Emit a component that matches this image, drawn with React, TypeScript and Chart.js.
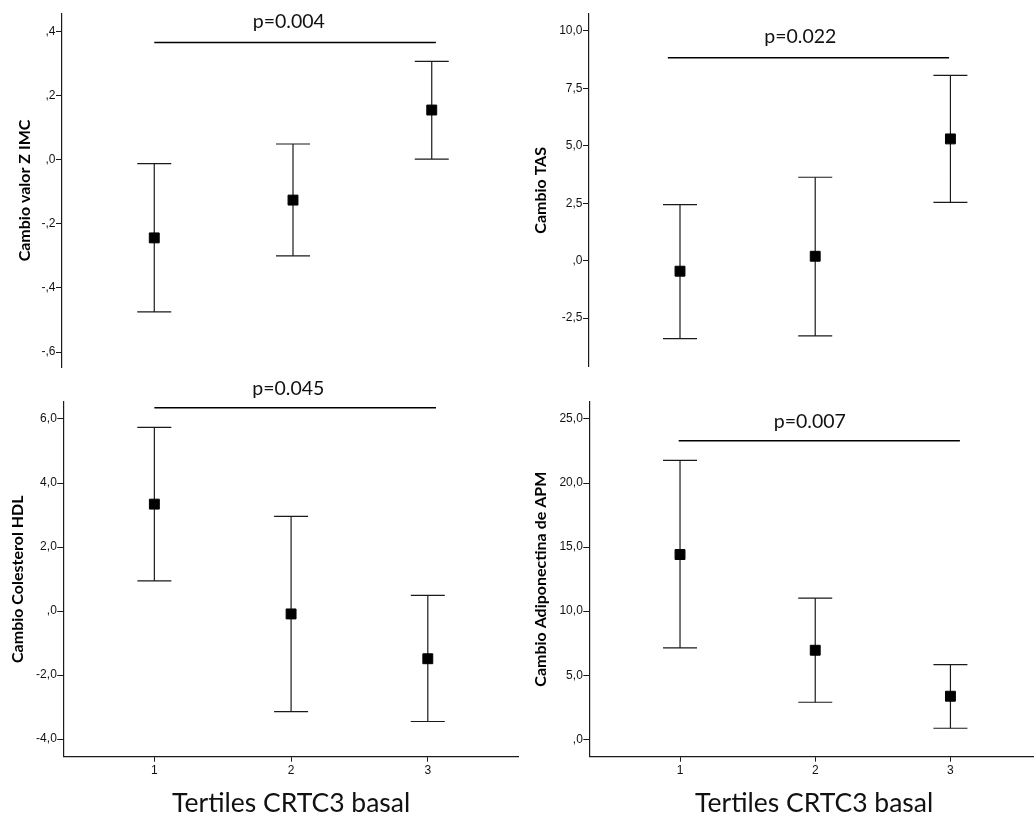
import React, { useEffect, useRef } from "react";
import { Chart, registerables } from "chart.js";

Chart.register(...registerables);

// ---------- shared categories / axis text ----------
const categories = [1, 2, 3];
const xTickLabels = ["1", "2", "3"];
const xAxisTitle = "Tertiles CRTC3 basal";

// ---------- Panel A: Cambio valor Z IMC ----------
const imcTitle = "Cambio valor Z IMC";
const imcMean = [-0.244, -0.126, 0.155];
const imcLower = [-0.475, -0.3, 0.002];
const imcUpper = [-0.012, 0.049, 0.307];
const imcTicks = [-0.6, -0.4, -0.2, 0, 0.2, 0.4];
const imcTickLabels = ["-,6", "-,4", "-,2", ",0", ",2", ",4"];
const imcRange = [-0.6468, 0.4546];
const imcP = "p=0.004";
const imcPLineX = [1.0, 3.03];
const imcPLevel = 0.366;
const imcPTextX = 1.97;

// ---------- Panel B: Cambio TAS ----------
const tasTitle = "Cambio TAS";
const tasMean = [-0.46, 0.19, 5.3];
const tasLower = [-3.4, -3.28, 2.54];
const tasUpper = [2.44, 3.63, 8.07];
const tasTicks = [-2.5, 0, 2.5, 5, 7.5, 10];
const tasTickLabels = ["-2,5", ",0", "2,5", "5,0", "7,5", "10,0"];
const tasRange = [-4.62, 10.74];
const tasP = "p=0.022";
const tasPLineX = [0.91, 2.99];
const tasPLevel = 8.84;
const tasPTextX = 1.89;

// ---------- Panel C: Cambio Colesterol HDL ----------
const hdlTitle = "Cambio Colesterol HDL";
const hdlMean = [3.34, -0.09, -1.49];
const hdlLower = [0.94, -3.14, -3.45];
const hdlUpper = [5.74, 2.96, 0.49];
const hdlTicks = [-4, -2, 0, 2, 4, 6];
const hdlTickLabels = ["-4,0", "-2,0", ",0", "2,0", "4,0", "6,0"];
const hdlRange = [-4.55, 6.54];
const hdlP = "p=0.045";
const hdlPLineX = [1.0, 3.06];
const hdlPLevel = 6.35;
const hdlPTextX = 1.98;

// ---------- Panel D: Cambio Adiponectina de APM ----------
const apmTitle = "Cambio Adiponectina de APM";
const apmMean = [14.42, 6.95, 3.36];
const apmLower = [7.13, 2.89, 0.86];
const apmUpper = [21.77, 11.02, 5.83];
const apmTicks = [0, 5, 10, 15, 20, 25];
const apmTickLabels = [",0", "5,0", "10,0", "15,0", "20,0", "25,0"];
const apmRange = [-1.36, 26.35];
const apmP = "p=0.007";
const apmPLineX = [0.99, 3.07];
const apmPLevel = 23.3;
const apmPTextX = 1.96;

type PanelData = {
  title: string;
  mean: number[];
  lower: number[];
  upper: number[];
  ticks: number[];
  tickLabels: string[];
  range: number[];
  pLabel: string;
  pLineX: number[];
  pLevel: number;
  pTextX: number;
};

type PanelLayout = {
  left: number;
  top: number;
  width: number;
  height: number;
  axisW: number;
  padTop: number;
  padBottom: number;
  showX: boolean;
  xAxisH: number;
  titleX: number;
  pGap: number;
  xMin: number;
  xMax: number;
};

const panels: { data: PanelData; layout: PanelLayout }[] = [
  {
    data: {
      title: imcTitle, mean: imcMean, lower: imcLower, upper: imcUpper,
      ticks: imcTicks, tickLabels: imcTickLabels, range: imcRange,
      pLabel: imcP, pLineX: imcPLineX, pLevel: imcPLevel, pTextX: imcPTextX,
    },
    layout: {
      left: 0, top: 0, width: 524, height: 380, axisW: 62, padTop: 14, padBottom: 13,
      showX: false, xAxisH: 0, titleX: 25, pGap: 14, xMin: 0.335, xMax: 3.665,
    },
  },
  {
    data: {
      title: tasTitle, mean: tasMean, lower: tasLower, upper: tasUpper,
      ticks: tasTicks, tickLabels: tasTickLabels, range: tasRange,
      pLabel: tasP, pLineX: tasPLineX, pLevel: tasPLevel, pTextX: tasPTextX,
    },
    layout: {
      left: 522, top: 0, width: 517, height: 380, axisW: 67, padTop: 14, padBottom: 13.3,
      showX: false, xAxisH: 0, titleX: 19, pGap: 15, xMin: 0.327, xMax: 3.655,
    },
  },
  {
    data: {
      title: hdlTitle, mean: hdlMean, lower: hdlLower, upper: hdlUpper,
      ticks: hdlTicks, tickLabels: hdlTickLabels, range: hdlRange,
      pLabel: hdlP, pLineX: hdlPLineX, pLevel: hdlPLevel, pTextX: hdlPTextX,
    },
    layout: {
      left: 0, top: 380, width: 519, height: 439, axisW: 63.3, padTop: 21.7, padBottom: 0,
      showX: true, xAxisH: 62.3, titleX: 17.5, pGap: 12.7, xMin: 0.334, xMax: 3.667,
    },
  },
  {
    data: {
      title: apmTitle, mean: apmMean, lower: apmLower, upper: apmUpper,
      ticks: apmTicks, tickLabels: apmTickLabels, range: apmRange,
      pLabel: apmP, pLineX: apmPLineX, pLevel: apmPLevel, pTextX: apmPTextX,
    },
    layout: {
      left: 522, top: 380, width: 517, height: 439, axisW: 67.3, padTop: 21.7, padBottom: 0,
      showX: true, xAxisH: 62.3, titleX: 19, pGap: 12.7, xMin: 0.329, xMax: 3.655,
    },
  },
];

const LINE = "#1a1a1a";
const TICK_FONT = { family: "'Liberation Sans', Arial, sans-serif", size: 12 };
const TITLE_FONT = "Lato, 'Open Sans', sans-serif";

function Panel({ data, layout }: { data: PanelData; layout: PanelLayout }) {
  const ref = useRef<HTMLCanvasElement | null>(null);

  useEffect(() => {
    const canvas = ref.current;
    if (!canvas) return;

    const whisker: { x: number; y: number | null }[] = [];
    categories.forEach((c, i) => {
      whisker.push({ x: c, y: data.lower[i] }, { x: c, y: data.upper[i] }, { x: c, y: null });
    });
    const caps = categories.flatMap((c, i) => [
      { x: c, y: data.lower[i] },
      { x: c, y: data.upper[i] },
    ]);
    const means = categories.map((c, i) => ({ x: c, y: data.mean[i] }));
    const pLine = [
      { x: data.pLineX[0], y: data.pLevel },
      { x: data.pLineX[1], y: data.pLevel },
    ];

    const pTextPlugin = {
      id: "pText",
      afterDatasetsDraw(chart: any) {
        const { ctx, scales } = chart;
        const px = scales.x.getPixelForValue(data.pTextX);
        const py = scales.y.getPixelForValue(data.pLevel) - layout.pGap;
        ctx.save();
        ctx.font = `19.5px ${TITLE_FONT}`;
        ctx.fillStyle = "#111";
        ctx.textAlign = "center";
        ctx.textBaseline = "alphabetic";
        ctx.fillText(data.pLabel, px, py);
        ctx.restore();
      },
    };

    const titleSize = 16;

    const chart = new Chart(canvas, {
      type: "scatter",
      data: {
        datasets: [
          {
            data: means,
            pointStyle: "rect",
            pointRadius: 7,
            pointBackgroundColor: "#000",
            pointBorderColor: "#000",
            pointBorderWidth: 1,
            showLine: false,
          },
          {
            data: caps,
            pointStyle: "line",
            pointRadius: 17,
            pointBorderColor: LINE,
            pointBorderWidth: 1.2,
            showLine: false,
          },
          {
            data: whisker,
            showLine: true,
            spanGaps: false,
            borderColor: LINE,
            borderWidth: 1.2,
            pointRadius: 0,
          },
          {
            data: pLine,
            showLine: true,
            borderColor: "#000",
            borderWidth: 1.5,
            pointRadius: 0,
          },
        ] as any,
      },
      options: {
        animation: false,
        responsive: false,
        events: [],
        layout: {
          autoPadding: false,
          padding: { left: 0, right: 0, top: layout.padTop, bottom: layout.padBottom },
        },
        plugins: {
          legend: { display: false },
          tooltip: { enabled: false },
        },
        scales: {
          x: {
            type: "linear",
            display: layout.showX,
            min: layout.xMin,
            max: layout.xMax,
            afterBuildTicks: (s: any) => {
              s.ticks = categories.map((v) => ({ value: v }));
            },
            afterFit: (s: any) => {
              s.height = layout.xAxisH;
            },
            ticks: {
              autoSkip: false,
              maxRotation: 0,
              padding: 2,
              color: "#111",
              font: { ...TICK_FONT, size: 12 },
              callback: (_v: any, i: number) => xTickLabels[i],
            },
            grid: {
              drawOnChartArea: false,
              drawTicks: true,
              tickLength: 5,
              color: LINE,
            },
            border: { display: true, color: LINE, width: 1.2 },
            title: {
              display: true,
              text: xAxisTitle,
              color: "#111",
              font: { family: TITLE_FONT, size: 26.5, lineHeight: 1 },
              padding: { top: 0, bottom: 2.3 },
            },
          },
          y: {
            type: "linear",
            min: data.range[0],
            max: data.range[1],
            afterBuildTicks: (s: any) => {
              s.ticks = data.ticks.map((v) => ({ value: v }));
            },
            afterFit: (s: any) => {
              s.width = layout.axisW;
            },
            ticks: {
              autoSkip: false,
              padding: 0.5,
              color: "#111",
              font: TICK_FONT,
              callback: (_v: any, i: number) => data.tickLabels[i],
            },
            grid: {
              drawOnChartArea: false,
              drawTicks: true,
              tickLength: 6,
              color: LINE,
            },
            border: { display: true, color: LINE, width: 1.2 },
            title: {
              display: true,
              text: data.title,
              color: "#000",
              font: { family: TITLE_FONT, size: titleSize, weight: "bold", lineHeight: 1 },
              padding: { top: layout.titleX - titleSize / 2, bottom: 0 },
            },
          },
        },
      } as any,
      plugins: [pTextPlugin],
    });

    return () => {
      chart.destroy();
    };
  }, [data, layout]);

  return (
    <canvas
      ref={ref}
      width={layout.width}
      height={layout.height}
      style={{
        position: "absolute",
        left: layout.left,
        top: layout.top,
        width: layout.width,
        height: layout.height,
      }}
    />
  );
}

export default function App() {
  return (
    <div
      style={{
        position: "absolute",
        left: 0,
        top: 0,
        width: 1034,
        height: 819,
        overflow: "hidden",
        background: "#fff",
      }}
    >
      {panels.map((p, i) => (
        <Panel key={i} data={p.data} layout={p.layout} />
      ))}
    </div>
  );
}
